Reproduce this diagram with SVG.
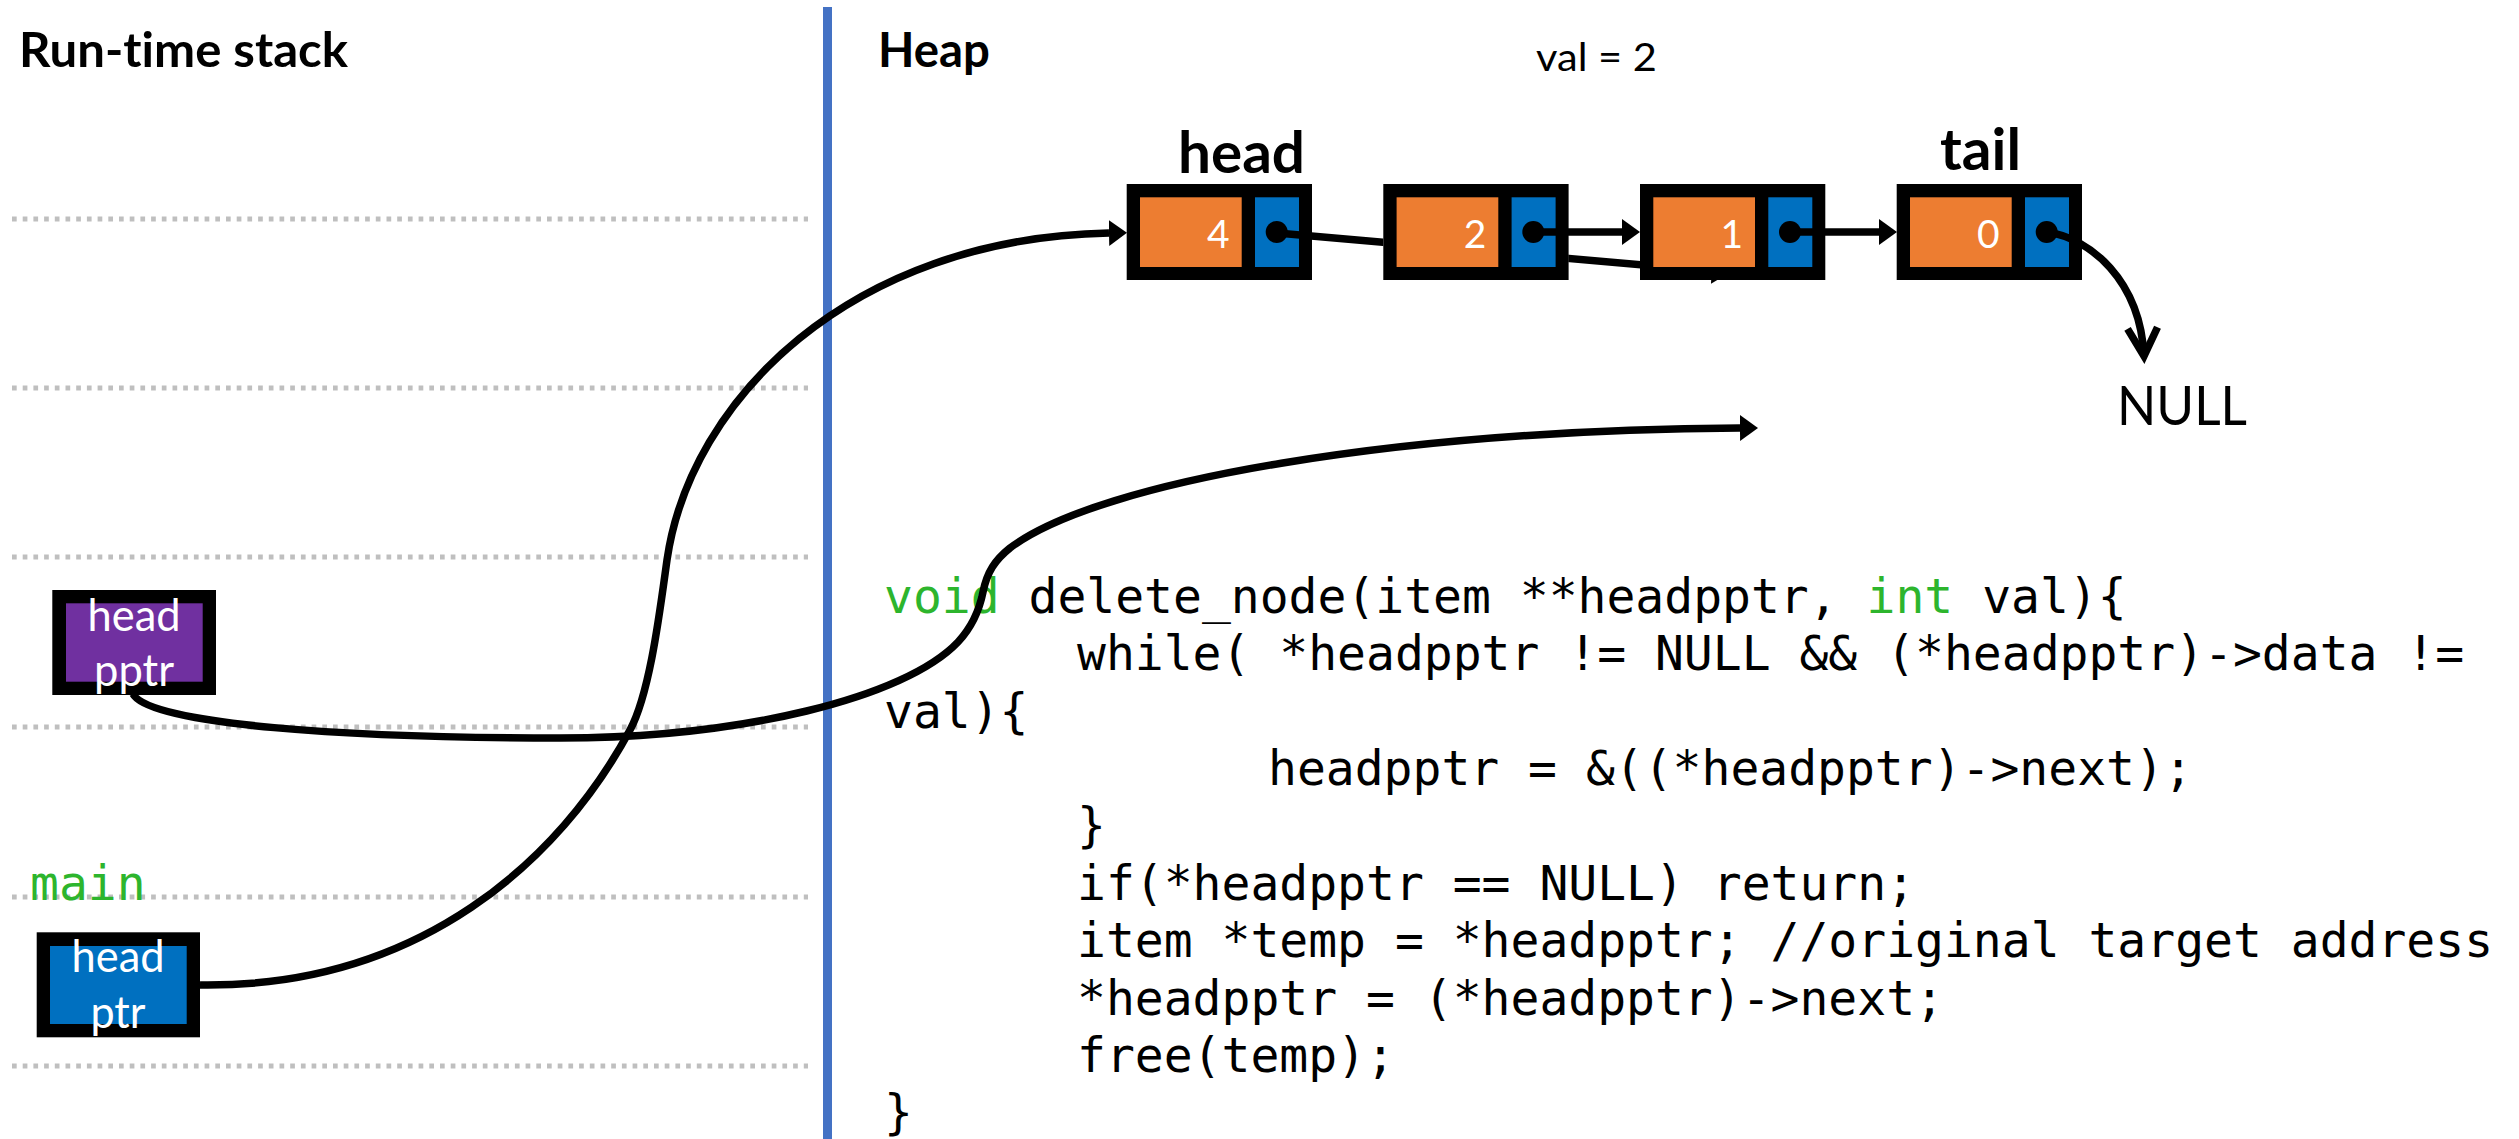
<svg xmlns="http://www.w3.org/2000/svg" width="2519" height="1139" viewBox="0 0 2519 1139">
  <style>
    .sans { font-family: Lato, "Open Sans", "Liberation Sans", sans-serif; font-variant-ligatures: none; }
    .title { font-size: 47px; font-weight: bold; fill: #000; }
    .label { font-size: 57px; font-weight: bold; fill: #000; }
    .plain { font-size: 38px; fill: #000; }
    .digit { font-size: 39px; fill: #fff; text-anchor: end; }
    .boxtxt { font-size: 44px; fill: #fff; text-anchor: middle; }
    .code { font-family: "DejaVu Sans Mono", "Liberation Mono", monospace; font-size: 48px; fill: #000; }
    .kw { fill: #2DB52D; }
    .frame { stroke: #BFBFBF; stroke-width: 5; stroke-dasharray: 4.7 6; fill: none; }
    .border { fill: #000; }
    .data { fill: #ED7D31; }
    .next { fill: #0070C0; }
    .link { fill: none; stroke: #000; stroke-width: 7.5; }
  </style>
  <defs>
    <marker id="tri" markerUnits="userSpaceOnUse" viewBox="0 0 18 26" markerWidth="18" markerHeight="26" refX="0" refY="13" orient="auto">
      <path d="M0,0 L18,13 L0,26 z" fill="#000"/>
    </marker>
    <marker id="vee" markerUnits="userSpaceOnUse" markerWidth="1" markerHeight="1" refX="0" refY="0" orient="auto" overflow="visible">
      <path d="M-28,-15 L0,0 L-28,15" fill="none" stroke="#000" stroke-width="7.5"/>
    </marker>
    <!-- hides the skip link where it runs underneath the "2" and "1" nodes -->
    <mask id="underNodes" maskUnits="userSpaceOnUse" x="0" y="0" width="2519" height="1139">
      <rect width="2519" height="1139" fill="#fff"/>
      <rect x="1383.3" y="184" width="185" height="96" fill="#000"/>
      <rect x="1640" y="184" width="185.3" height="96" fill="#000"/>
    </mask>
  </defs>

  <rect width="2519" height="1139" fill="#fff"/>

  <!-- stack frame separators -->
  <g id="stack-frames">
    <line class="frame" x1="12" y1="219" x2="808" y2="219"/>
    <line class="frame" x1="12" y1="388" x2="808" y2="388"/>
    <line class="frame" x1="12" y1="557" x2="808" y2="557"/>
    <line class="frame" x1="12" y1="727" x2="808" y2="727"/>
    <line class="frame" x1="12" y1="897" x2="808" y2="897"/>
    <line class="frame" x1="12" y1="1066" x2="808" y2="1066"/>
  </g>

  <!-- divider between stack and heap -->
  <line id="divider" x1="827.5" y1="7" x2="827.5" y2="1139" stroke="#4472C4" stroke-width="9"/>

  <g id="headings" class="sans">
    <text class="title" x="19" y="67" textLength="329" lengthAdjust="spacingAndGlyphs">Run-time stack</text>
    <text class="title" x="878" y="67" textLength="112" lengthAdjust="spacingAndGlyphs">Heap</text>
    <text class="plain" x="1536" y="71" textLength="121" lengthAdjust="spacingAndGlyphs">val = 2</text>
  </g>

  <!-- source listing -->
  <g id="code" class="code">
    <text x="884" y="612.7"><tspan class="kw">void</tspan> delete_node(item **headpptr, <tspan class="kw">int</tspan> val){</text>
    <text x="1077" y="670.1">while( *headpptr != NULL &amp;&amp; (*headpptr)-&gt;data !=</text>
    <text x="884" y="727.5">val){</text>
    <text x="1268" y="784.9">headpptr = &amp;((*headpptr)-&gt;next);</text>
    <text x="1077" y="842.3">}</text>
    <text x="1077" y="899.7">if(*headpptr == NULL) return;</text>
    <text x="1077" y="957.1">item *temp = *headpptr; //original target address</text>
    <text x="1077" y="1014.5">*headpptr = (*headpptr)-&gt;next;</text>
    <text x="1077" y="1071.9">free(temp);</text>
    <text x="884" y="1129.3">}</text>
  </g>

  <!-- stack variables -->
  <g id="frame-delete-headpptr" class="sans">
    <rect class="border" x="52.3" y="590" width="163.7" height="105"/>
    <rect x="66" y="603.3" width="136.7" height="78.4" fill="#7030A0"/>
    <text class="boxtxt" x="134" y="630.7" textLength="93" lengthAdjust="spacingAndGlyphs">head</text>
    <text class="boxtxt" x="134" y="686" textLength="80" lengthAdjust="spacingAndGlyphs">pptr</text>
  </g>

  <text id="main-label" class="code kw" x="30" y="900">main</text>

  <g id="main-headptr" class="sans">
    <rect class="border" x="36.7" y="932.3" width="163.3" height="105"/>
    <rect class="next" x="50" y="946" width="136.7" height="78"/>
    <text class="boxtxt" x="118" y="971.7" textLength="93" lengthAdjust="spacingAndGlyphs">head</text>
    <text class="boxtxt" x="118" y="1028.3" textLength="55" lengthAdjust="spacingAndGlyphs">ptr</text>
  </g>

  <!-- heap list nodes -->
  <text id="label-head" class="sans label" x="1178" y="173.3" textLength="127" lengthAdjust="spacingAndGlyphs">head</text>
  <text id="label-tail" class="sans label" x="1940" y="170" textLength="81" lengthAdjust="spacingAndGlyphs">tail</text>

  <g id="node-4" class="sans" transform="translate(1126.7 184)">
    <rect class="border" width="185.3" height="96"/>
    <rect class="data" x="13.3" y="13.3" width="101.7" height="69.7"/>
    <rect class="next" x="128.3" y="13.3" width="44" height="69.7"/>
    <text class="digit" x="103" y="64">4</text>
    <circle cx="150" cy="48" r="11"/>
  </g>
  <g id="node-2" class="sans" transform="translate(1383.3 184)">
    <rect class="border" width="185.3" height="96"/>
    <rect class="data" x="13.3" y="13.3" width="101.7" height="69.7"/>
    <rect class="next" x="128.3" y="13.3" width="44" height="69.7"/>
    <text class="digit" x="103" y="64">2</text>
    <circle cx="150" cy="48" r="11"/>
  </g>
  <g id="node-1" class="sans" transform="translate(1640 184)">
    <rect class="border" width="185.3" height="96"/>
    <rect class="data" x="13.3" y="13.3" width="101.7" height="69.7"/>
    <rect class="next" x="128.3" y="13.3" width="44" height="69.7"/>
    <text class="digit" x="103" y="64">1</text>
    <circle cx="150" cy="48" r="11"/>
  </g>
  <g id="node-0" class="sans" transform="translate(1896.7 184)">
    <rect class="border" width="185.3" height="96"/>
    <rect class="data" x="13.3" y="13.3" width="101.7" height="69.7"/>
    <rect class="next" x="128.3" y="13.3" width="44" height="69.7"/>
    <text class="digit" x="103" y="64">0</text>
    <circle cx="150" cy="48" r="11"/>
  </g>

  <text id="null-label" class="sans" x="2117" y="425" font-size="55" textLength="130" lengthAdjust="spacingAndGlyphs">NULL</text>

  <!-- pointers -->
  <g id="connectors">
    <path class="link" mask="url(#underNodes)" d="M1277,233 L1712,271" marker-end="url(#tri)"/>
    <path class="link" d="M1533,232 L1622,232" marker-end="url(#tri)"/>
    <path class="link" d="M1790,232 L1879,232" marker-end="url(#tri)"/>
    <path class="link" d="M2047,232 C2090,238 2140,280 2144,356" marker-end="url(#vee)"/>
    <path class="link" d="M200,985 C420,988 560,860 630,730 C650,693 660,610 667,560 C690,400 850,238 1109,233" marker-end="url(#tri)"/>
    <path class="link" d="M133,694 C150,725 350,738 560,738 C740,738 905,698 958,642 C972,627 979,612 983,592 C987,572 995,560 1010,548 C1100,480 1400,430 1740,428" marker-end="url(#tri)"/>
  </g>
</svg>
